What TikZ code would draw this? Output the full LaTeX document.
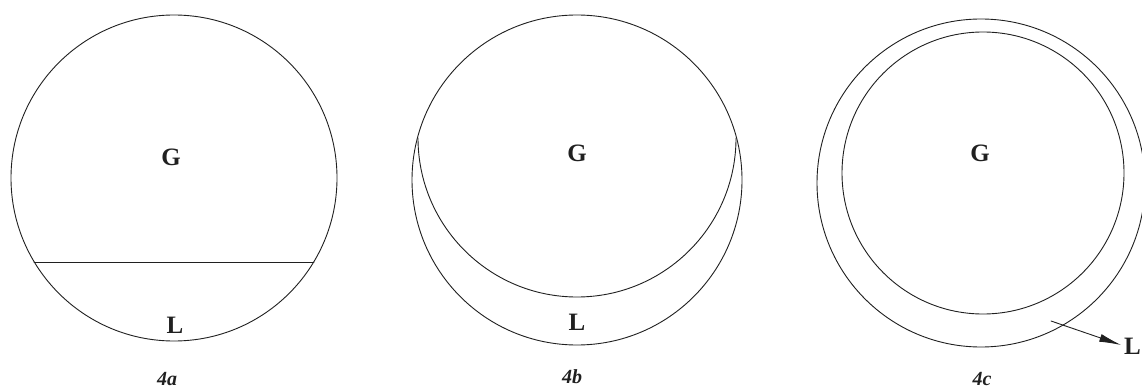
\documentclass[tikz,border=0pt]{standalone}
\usepackage{fontspec}
\setmainfont{Liberation Serif}
\usetikzlibrary{arrows.meta,positioning}
\definecolor{phaseInk}{HTML}{202020}
\begin{document}
\begin{tikzpicture}[x=1pt,y=-1pt,>=Latex,line cap=round,line join=round]
\path[fill=white] (0,0) rectangle (1142,390);
\useasboundingbox (0,0) rectangle (1142,390);
\tikzset{ring/.style={draw=phaseInk,line width=0.9pt},tag/.style={text=phaseInk,font=\fontsize{25}{25}\selectfont\bfseries,inner sep=0pt},figcap/.style={text=phaseInk,font=\fontsize{20}{20}\selectfont\bfseries\itshape,inner sep=0pt}}
% 4a: gas above, liquid pool below
\draw[ring] (174,178) circle[radius=163];
\draw[ring] (34,262) -- (314,262);
\node[tag] (gA) at (171,157) {G};
\node[tag] (lA) at (175,325) {L};
\node[figcap] (capA) at (167,379) {4a};
% 4b: gas pocket resting on a liquid crescent
\draw[ring] (577,180) circle[radius=165];
\draw[ring] (418,138) arc[start angle=180,end angle=0,radius=159];
\node[tag] (gB) at (577,153) {G};
\node[tag] (lB) at (577,322) {L};
\node[figcap] (capB) at (572,377) {4b};
% 4c: gas core inside a liquid ring
\draw[ring] (981,183) circle[radius=164];
\draw[ring] (983,173) circle[radius=141];
\node[tag] (gC) at (980,153) {G};
\coordinate (lfoot) at (1051,321);
\node[tag,anchor=west] (lC) at (1124,346) {L};
\draw[ring,-{Latex[length=22pt,width=8pt]},shorten >=3pt] (lfoot) -- (lC.west);
\node[figcap] (capC) at (982,379) {4c};
\end{tikzpicture}
\end{document}
